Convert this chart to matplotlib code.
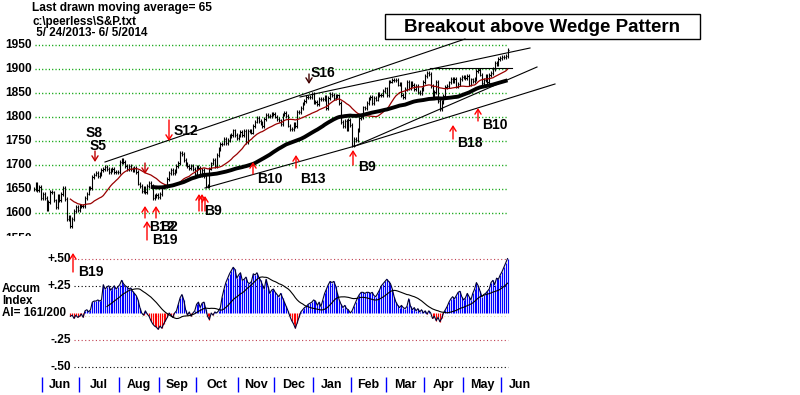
import numpy as np
import pandas as pd
import matplotlib
matplotlib.use("Agg")
import matplotlib.pyplot as plt
from matplotlib.patches import Rectangle

# ---------------- data ----------------
# S&P 500 daily closes, 5/24/2013 .. 6/5/2014 (trading-day index 0..259)
close = [
    1649.6, 1660.1, 1648.4, 1654.4, 1630.7,
    1640.4, 1631.4, 1608.9, 1622.6, 1643.4, 1642.8, 1626.1, 1612.5, 1636.4, 1626.7,
    1639.0, 1651.8, 1628.9, 1588.2, 1592.4, 1573.1, 1588.0, 1603.3, 1613.2, 1606.3,
    1614.1, 1614.1, 1615.4, 1631.9, 1640.5, 1652.3, 1652.6, 1675.0, 1680.2, 1682.5,
    1676.3, 1680.9, 1689.4, 1692.1, 1695.5, 1692.4, 1685.9, 1690.3, 1691.7, 1685.3,
    1685.9, 1685.7,
    1706.9, 1709.7, 1707.1, 1697.4, 1690.9, 1697.5, 1691.4, 1689.5, 1694.2, 1685.4,
    1661.3, 1655.8, 1646.1, 1652.4, 1642.8, 1657.0, 1663.5, 1656.8, 1630.5, 1634.9,
    1638.2, 1633.0,
    1639.8, 1653.1, 1655.1, 1655.2, 1671.7, 1684.0, 1689.1, 1683.4, 1688.0, 1697.6,
    1704.8, 1725.5, 1722.3, 1709.9, 1701.8, 1697.4, 1692.8, 1698.7, 1691.8, 1681.6,
    1695.0, 1693.9, 1678.7, 1690.5, 1676.1, 1655.5, 1656.4, 1692.6, 1703.2, 1710.1,
    1698.1, 1721.5, 1733.2, 1744.5, 1744.7, 1754.7, 1746.4, 1752.1, 1759.8, 1762.1,
    1772.0, 1763.3, 1756.5,
    1761.6, 1767.9, 1763.0, 1770.5, 1747.2, 1770.6, 1771.9, 1767.7, 1782.0, 1790.6,
    1798.2, 1791.5, 1787.9, 1781.4, 1795.9, 1804.8, 1802.5, 1802.8, 1807.2, 1805.8,
    1800.9, 1795.2, 1792.8, 1785.0, 1805.1, 1808.4, 1802.6, 1782.2, 1775.5, 1775.3,
    1786.5, 1781.0, 1810.7, 1809.6, 1818.3, 1828.0, 1833.3, 1842.0, 1841.4, 1841.1,
    1848.4,
    1832.0, 1831.4, 1826.8, 1837.9, 1837.5, 1838.1, 1842.4, 1819.2, 1838.9, 1848.4,
    1845.9, 1838.7, 1843.8, 1844.9, 1828.5, 1790.3, 1781.6, 1792.5, 1774.2, 1794.2,
    1782.6,
    1741.9, 1755.2, 1751.6, 1773.4, 1797.0, 1799.8, 1819.8, 1819.3, 1829.8, 1838.6,
    1840.8, 1828.8, 1839.8, 1836.3, 1847.6, 1845.1, 1845.2, 1854.3, 1859.5,
    1845.7, 1873.9, 1873.8, 1877.0, 1878.0, 1877.2, 1867.6, 1868.2, 1846.3, 1841.1,
    1858.8, 1872.3, 1860.8, 1872.0, 1866.5, 1857.4, 1865.6, 1852.6, 1849.0, 1857.6,
    1872.3,
    1885.5, 1890.9, 1888.8, 1865.1, 1845.0, 1852.0, 1872.2, 1833.1, 1815.7, 1830.6,
    1843.0, 1862.3, 1864.9, 1871.9, 1879.6, 1875.4, 1878.6, 1863.4, 1869.4, 1878.3,
    1884.0,
    1883.7, 1881.1, 1884.7, 1867.7, 1878.2, 1875.6, 1878.5, 1896.7, 1897.5, 1888.5,
    1870.9, 1877.9, 1885.1, 1872.8, 1888.0, 1892.5, 1900.5, 1911.9, 1909.8, 1920.0,
    1923.6,
    1925.0, 1924.2, 1927.9, 1940.5,
]

# Accumulation Index, first 20 days not drawn
accum_vals = [
    -0.03, -0.02, -0.05, -0.02, -0.04, -0.03, -0.01, -0.04,
    0.02, 0.03, 0.01, 0.03,
    0.10, 0.11, 0.11, 0.12, 0.11, 0.12,
    0.26,
    0.22, 0.24, 0.25, 0.21, 0.23, 0.25, 0.22, 0.24, 0.26,
    0.30,
    0.27, 0.25, 0.24, 0.22, 0.23,
    0.20, 0.18, 0.16, 0.12, 0.05, 0.00,
    -0.02, 0.02, -0.01, -0.03,
    -0.07, -0.10, -0.12, -0.13, -0.15, -0.12,
    -0.14, -0.10, -0.07, -0.04, 0.00, -0.02,
    -0.04, 0.00, 0.02,
    0.08, 0.14, 0.17, 0.12,
    0.03, -0.02, 0.01, -0.03, 0.00, 0.02,
    0.08, 0.10, 0.05, 0.09, 0.10, 0.04,
    -0.03, -0.06,
    0.00, -0.02, 0.01, 0.00, 0.02,
    0.05, 0.15, 0.22, 0.28, 0.32,
    0.36, 0.39, 0.42, 0.40,
    0.32, 0.35, 0.37, 0.30, 0.31, 0.33, 0.28, 0.27, 0.29, 0.36, 0.35,
    0.37, 0.33, 0.30, 0.26, 0.22, 0.31, 0.25, 0.18, 0.21, 0.22, 0.19,
    0.17, 0.15, 0.18, 0.14, 0.10, 0.06, 0.02,
    -0.03, -0.07, -0.10, -0.14, -0.09, -0.04, 0.01, 0.03,
    0.05, 0.06, 0.08, 0.09, 0.10, 0.12, 0.11,
    0.07, 0.10, 0.06,
    0.12, 0.18, 0.22, 0.26,
    0.29, 0.28, 0.29, 0.25,
    0.18, 0.12, 0.08,
    0.05, 0.07, 0.04, 0.03,
    0.00, 0.02, 0.06,
    0.10, 0.14, 0.17, 0.19,
    0.19, 0.18, 0.19, 0.19, 0.18, 0.19, 0.16,
    0.15, 0.18, 0.21, 0.25,
    0.27, 0.29, 0.31, 0.29, 0.27,
    0.22, 0.15, 0.10, 0.07,
    0.05, 0.07, 0.05, 0.04, 0.06,
    0.13, 0.06, 0.03,
    0.05, 0.02, 0.04, 0.01, 0.03, 0.00, 0.02, -0.01, 0.02, 0.00,
    -0.05, -0.03, -0.07, -0.04, -0.08, -0.05,
    0.00, 0.03, 0.06,
    0.10, 0.13, 0.15, 0.13, 0.16,
    0.19, 0.20, 0.15, 0.12, 0.14,
    0.18, 0.15, 0.12,
    0.18, 0.22, 0.28, 0.25, 0.20,
    0.15, 0.17, 0.18, 0.20, 0.22,
    0.28, 0.30, 0.26, 0.32,
    0.31, 0.35, 0.38, 0.42, 0.46, 0.50,
]
accum_start = 20

month_start_idx = [5, 25, 47, 69, 89, 112, 132, 153, 174, 193, 214, 235, 256]
month_labels = ["Jun", "Jul", "Aug", "Sep", "Oct", "Nov", "Dec",
                "Jan", "Feb", "Mar", "Apr", "May", "Jun"]
price_ticks = [1600, 1650, 1700, 1750, 1800, 1850, 1900, 1950]
accum_ticks = [0.50, 0.25, -0.25, -0.50]
accum_tick_labels = ["+.50", "+.25", "-.25", "-.50"]

ma_short = 21
ma_long = 65

# ---------------- layout helpers (pixel -> data) ----------------
W, H = 800, 395
X0, DX = 33.8, 1.829
def xi(px):
    return (px - X0) / DX
def pp(py):
    return 1950 - (py - 45) / 0.48
def av(py):
    return (313 - py) / 108.8

BOLD = ["Liberation Sans", "DejaVu Sans"]
NARROW = ["Liberation Sans Narrow", "Liberation Sans", "DejaVu Sans"]

fig = plt.figure(figsize=(W / 100, H / 100), dpi=100)
fig.patch.set_facecolor("white")
ax1 = fig.add_axes([0, 1 - 236 / H, 1, 236 / H])
ax2 = fig.add_axes([0, 0, 1, 159 / H])
for a in (ax1, ax2):
    a.axis("off")
    a.set_xlim(xi(0), xi(W))
ax1.set_ylim(pp(236), pp(0))
ax2.set_ylim(av(395), av(236))

n = len(close)
idx = np.arange(n)
c = np.array(close)
s = pd.Series(c)

# ---------------- price panel ----------------
grid_style = dict(color="#00A000", lw=1.0, linestyle=(0, (0.8, 1.6)))
for p in price_ticks:
    ax1.plot([xi(35), xi(508)], [p, p], **grid_style, zorder=1)
    ax1.text(xi(32), p, str(p), ha="right", va="center", fontsize=8.6,
             fontweight="bold", family=BOLD)
ax1.text(xi(32), pp(239), "1550", ha="right", va="center", fontsize=8.6,
         fontweight="bold", family=BOLD, clip_on=True)

prev = np.concatenate([[c[0]], c[:-1]])
lo = np.minimum(prev, c) - 4
hi = np.maximum(prev, c) + 4
ax1.vlines(idx, lo, hi, color="black", lw=0.8, zorder=3)
ax1.hlines(c, idx, idx + 0.7, color="black", lw=0.8, zorder=3)

ma21 = s.rolling(ma_short).mean()
ma65 = s.rolling(ma_long).mean()
ax1.plot(idx, ma21, color="#990000", lw=0.9, zorder=4)
ax1.plot(idx, ma65, color="black", lw=2.8, zorder=4, solid_capstyle="butt")

# trend lines (idx, price) pairs
trend_lines = [
    (xi(105), pp(162), xi(465), pp(39)),
    (xi(300), pp(97), xi(530), pp(48)),
    (xi(205), pp(188), xi(355), pp(146)),
    (xi(355), pp(146), xi(537), pp(67)),
    (xi(355), pp(146), xi(555), pp(84)),
    (xi(430), pp(68), xi(512), pp(68)),
]
for x0, y0, x1, y1 in trend_lines:
    ax1.plot([x0, x1], [y0, y1], color="black", lw=0.8, zorder=2)

# header
ax1.text(xi(32), pp(8), "Last drawn moving average= 65", ha="left", va="center",
         fontsize=8.6, fontweight="bold", family=BOLD)
ax1.text(xi(33), pp(22), "c:\\peerless\\S&P.txt", ha="left", va="center",
         fontsize=8.4, fontweight="bold", family=BOLD)
ax1.text(xi(33), pp(33), " 5/ 24/2013- 6/ 5/2014", ha="left", va="center",
         fontsize=8.4, fontweight="bold", family=BOLD)

ax1.add_patch(Rectangle((xi(385), pp(39)), xi(700) - xi(385), pp(14) - pp(39),
                        fill=False, ec="black", lw=1.0, zorder=5))
ax1.text(xi(542.5), pp(27), "Breakout above Wedge Pattern", ha="center",
         va="center", fontsize=13.5, fontweight="bold", family=BOLD, zorder=6)

# signals
def arrow(ax, ymap, x, y_tail, y_head, color="red"):
    ax.annotate("", xy=(xi(x), ymap(y_head)), xytext=(xi(x), ymap(y_tail)),
                arrowprops=dict(arrowstyle="->,head_length=0.35,head_width=0.22",
                                color=color, lw=1.0, shrinkA=0, shrinkB=0),
                zorder=7)

def label(ax, ymap, x, y, txt):
    ax.text(xi(x), ymap(y), txt, ha="left", va="center", fontsize=10,
            fontweight="bold", family=BOLD, zorder=8)

label(ax1, pp, 86, 133, "S8")
label(ax1, pp, 90, 146, "S5")
arrow(ax1, pp, 95, 151, 162, color="#C00000")
arrow(ax1, pp, 145, 163, 174, color="#C00000")
label(ax1, pp, 174, 131, "S12")
arrow(ax1, pp, 169, 120, 141)
arrow(ax1, pp, 145, 218, 206)
arrow(ax1, pp, 156, 218, 206)
label(ax1, pp, 149, 227, "B12")
label(ax1, pp, 160, 227, "B2")
arrow(ax1, pp, 147, 240, 221)
label(ax1, pp, 152, 240, "B19")
arrow(ax1, pp, 199, 211, 194)
arrow(ax1, pp, 202, 211, 194)
arrow(ax1, pp, 205, 211, 196)
label(ax1, pp, 204, 211, "B9")
arrow(ax1, pp, 253, 174, 162)
label(ax1, pp, 257, 179, "B10")
arrow(ax1, pp, 296, 168, 155)
label(ax1, pp, 300, 179, "B13")
arrow(ax1, pp, 353, 165, 150)
label(ax1, pp, 358, 167, "B9")
label(ax1, pp, 311, 73, "S16")
arrow(ax1, pp, 309, 74, 84, color="#400000")
arrow(ax1, pp, 453, 139, 125)
label(ax1, pp, 457, 143, "B18")
arrow(ax1, pp, 478, 121, 108)
label(ax1, pp, 482, 125, "B10")

# ---------------- accumulation panel ----------------
acc = np.full(n, np.nan)
acc[accum_start:accum_start + len(accum_vals)] = accum_vals[:n - accum_start]
acc_s = pd.Series(acc)
acc_ma = acc_s.rolling(21, min_periods=21).mean()

gstyle = {
    0.50: dict(color="#C04050", lw=0.8, linestyle=(0, (1, 2.2))),
    0.25: dict(color="black", lw=0.8, linestyle=(0, (1, 2.2))),
    -0.25: dict(color="#C04050", lw=0.8, linestyle=(0, (1, 2.2))),
    -0.50: dict(color="black", lw=0.8, linestyle=(0, (1, 2.2))),
}
for v, t in zip(accum_ticks, accum_tick_labels):
    ax2.plot([xi(74), xi(508)], [v, v], **gstyle[v], zorder=1)
    ax2.text(xi(71), v, t, ha="right", va="center", fontsize=8.6,
             fontweight="bold", family=BOLD)
ax2.plot([xi(74), xi(508)], [av(316), av(316)], color="#D8D8B0", lw=0.8,
         linestyle=(0, (1, 2.2)), zorder=1)

valid = ~np.isnan(acc)
cols = np.where(acc[valid] >= 0, "#0000FF", "#FF0000")
ax2.vlines(idx[valid], 0, acc[valid], colors=cols, lw=0.85, zorder=3)
ax2.plot(idx, acc, color="#000033", lw=0.8, zorder=4)
ax2.plot(idx, acc_ma, color="black", lw=0.8, zorder=5)

ax2.text(xi(2), av(289), "Accum", ha="left", va="center", fontsize=8.4,
         fontweight="bold", family=BOLD)
ax2.text(xi(2), av(301), "Index", ha="left", va="center", fontsize=8.4,
         fontweight="bold", family=BOLD)
ax2.text(xi(2), av(313), "AI= 161/200", ha="left", va="center", fontsize=8.4,
         fontweight="bold", family=BOLD)

arrow(ax2, av, 73, 272, 253)
label(ax2, av, 78, 272, "B19")

# month axis
tick_pos = [m - 0.5 for m in month_start_idx]
ax2.vlines(tick_pos, av(392), av(377), color="#0000FF", lw=1.0)
bounds = tick_pos + [tick_pos[-1] + 21]
for i, lab in enumerate(month_labels):
    ax2.text((bounds[i] + bounds[i + 1]) / 2, av(385), lab, ha="center",
             va="center", fontsize=9, fontweight="bold", family=NARROW)

fig.savefig("out.png", dpi=100, facecolor="white")
